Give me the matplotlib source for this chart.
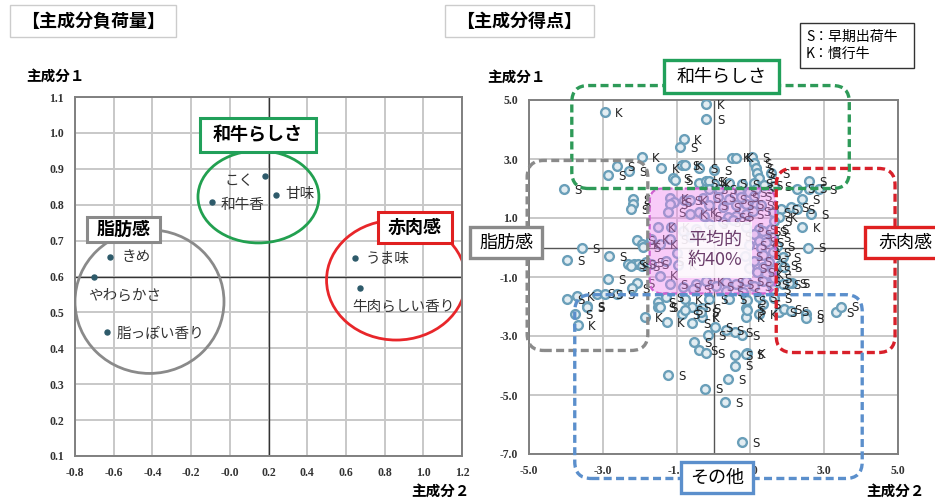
import numpy as np
import matplotlib
matplotlib.use("Agg")
import matplotlib.pyplot as plt
from matplotlib.patches import Ellipse, FancyBboxPatch, Rectangle

plt.rcParams['font.family'] = ['Noto Sans CJK JP', 'DejaVu Sans']
plt.rcParams['axes.unicode_minus'] = False

# ---- principal component loadings (left panel) ----
load_names = ["こく", "甘味", "和牛香", "きめ", "やわらかさ", "脂っぽい香り", "うま味", "牛肉らしい香り"]
load_pc2 = [0.18, 0.24, -0.09, -0.62, -0.70, -0.635, 0.647, 0.673]
load_pc1 = [0.88, 0.827, 0.808, 0.654, 0.599, 0.445, 0.651, 0.568]

# ---- principal component scores (right panel) ----
score_pc2 = [
    -2.95, -0.19, -0.19, -0.81, -0.92, -1.95, -1.41, -0.86, -0.78, -0.38,
    -1.11, -2.62, -2.30, -2.86, -4.05, -2.19, -2.19, -2.24, 0.00, 0.51,
    0.60, 1.03, 1.10, 1.15, 1.18, 1.22, 1.57, -1.05, -0.38, -0.19,
    0.00, 0.43, 0.76, 1.11, 1.38, 1.65, -0.11, 0.16, -0.11, 0.70,
    1.15, 0.97,
    2.27, 2.59, 2.59, 2.85, 1.84, 2.10, 2.40, 2.27, 2.65, 1.78,
    2.40, 2.57, 1.73, 1.80, 2.13, 2.05, 1.78, 1.92, 2.10, 2.51,
    2.51, 3.32, 3.46, 1.87, 1.91, 1.87,
    -3.57, -3.97, -2.84, -2.32, -2.16, -2.05, -2.08, -1.93, -1.91, -2.86,
    -2.08, -2.20, -3.97, -3.70, -3.43, -3.16, -2.95, -2.62, -3.76, -3.68,
    -3.43, -2.23, -1.93,
    -1.51, -1.46, -1.51, -1.86, -1.27, -1.51, -0.86, -0.57, -0.57, -0.32,
    -0.30, 0.03, -0.16, 0.35, 0.76, 0.89, 0.89, -0.54, -0.38, -0.19,
    0.59, 0.92, 0.88, 0.59, -1.24, 0.38, -0.22, 0.30, 0.76, 0.57,
    -1.17, -1.06, -0.79, -0.65, -0.29, 0.11, 0.43, 0.74, 1.10, -1.19,
    -0.11, 0.25, 0.61, 0.88, 1.15, 1.29, -1.23, -0.65, -0.38, -0.25,
    0.38, 0.61, 0.88, 1.06, -1.14, -0.83, -0.47, -0.11, 0.25, 0.52,
    0.88, 1.24, 1.51, -1.69, -1.46, -1.19, 1.10, 1.33, 1.55, 1.24,
    1.42, 1.28, -1.83, -1.70, 1.10, 1.33, 1.33, 1.51, 1.19, 1.42,
    -1.19, -0.83, -0.47, -0.20, 0.07, 0.34, 0.61, 0.88, 1.10, 1.33,
    1.55, -0.56, 0.34, 0.79, -1.28, -0.78, -0.11, 0.43, 0.92, 1.33,
    1.24, -1.46, -0.78, -0.33, 0.92, 1.24, 1.62, 1.65, 1.60, 1.62,
    1.60, 1.65, 1.62, 1.64, -1.00, -0.95, -1.30, 0.95, 0.85, 0.95,
    -0.60, 0.55,
]
score_pc1 = [
    4.58, 4.88, 4.37, 3.69, 3.39, 3.08, 2.71, 2.78, 2.80, 2.68,
    2.34, 2.75, 2.58, 2.47, 1.97, 1.66, 1.49, 1.32, 2.64, 3.05,
    3.05, 3.08, 2.88, 2.71, 2.54, 2.37, 2.54, 2.30, 2.17, 2.27,
    2.15, 2.17, 2.15, 2.17, 2.13, 2.10, 2.25, 1.99, 1.99, 1.93,
    1.99, 1.87,
    2.00, 2.27, 2.00, 1.97, 1.32, 1.36, 1.66, 1.32, 1.15, 1.02,
    0.68, 0.00, 0.05, -0.60, -1.19, -1.22, -2.20, -2.07, -2.14, -2.24,
    -2.40, -2.20, -2.00, -0.33, -0.67, -1.23,
    -0.03, -0.44, -0.30, -0.55, -0.56, -0.55, 0.27, 0.12, 0.03, -1.08,
    -1.19, -1.36, -1.73, -1.63, -1.97, -1.56, -1.59, -1.59, -2.24, -2.64,
    -2.03, -0.62, -0.62,
    0.68, -0.95, -1.86, -2.37, -2.54, -2.03, -2.24, -2.03, -2.57, -2.37,
    -2.05, -2.71, -2.95, -2.81, -2.95, -2.37, -2.05, -3.19, -3.49, -3.59,
    -3.63, -3.59, -3.62, -4.00, -4.31, -4.47, -4.78, -5.25, -6.61, -2.85,
    1.69, 1.54, 1.60, 1.60, 1.69, 1.71, 1.65, 1.71, 1.76, 1.48,
    1.43, 1.37, 1.43, 1.48, 1.43, 1.43, 1.20, 1.14, 1.20, 1.08,
    1.02, 1.08, 1.14, 1.25, 0.69, 0.57, 0.63, 0.80, 0.86, 0.92,
    0.69, 0.63, 0.57, 0.30, 0.12, 0.30, 0.46, 0.57, 0.63, 0.23,
    0.17, 0.00, -0.50, -0.55, -0.45, -0.27, -0.67, -0.50, -0.84, -0.90,
    -1.23, -1.34, -1.23, -1.12, -1.29, -1.17, -1.23, -1.12, -1.29, -1.12,
    -1.23, -1.40, -1.46, -1.51, -1.68, -1.74, -1.74, -1.74, -1.79, -1.91,
    -1.68, -2.02, -2.13, -2.20, -2.13, -2.25, 1.20, 0.90, 0.35, -0.15,
    -0.75, -1.05, -1.40, -1.70, -0.20, -0.60, -0.45, 0.10, -0.30, -0.70,
    0.35, 0.40,
]
score_type = list(
    "KKSKSKKSKS" "SSSSSSSSSK" "KSSSSSSSSS" "KSSSSSKSSS" "SS"
    "SSSSSSSSSK" "KSSSSSSSSS" "SSSSSS"
    "SSSSSSSKSS" "SSSKSSSSSK" "SSS"
    "KKSKKSSSSK" "SSSSSKSSSS" "SKSSSSSSSS"
    "KSSKSSSSSS" "SSSSSSSKKS" "SSSSKSSSSS" "SSSKKSSSSS" "SSSSSSKSSK"
    "SSSKSSSSSS" "SSSSSKSSSS" "SSSSSKSSSS" "SSSSSKSSSS" "KSSSSSSS" "SS"
)

W, H = 935, 499
fig = plt.figure(figsize=(W / 100, H / 100), dpi=100)


def fig_box(x0, y0, x1, y1, text, edge, fs, lw=2.0, weight="bold", ha="center", color="black", ls=1.2):
    fig.add_artist(Rectangle((x0 / W, 1 - y1 / H), (x1 - x0) / W, (y1 - y0) / H,
                             transform=fig.transFigure, facecolor="white",
                             edgecolor=edge, lw=lw, zorder=10))
    tx = (x0 + x1) / 2 / W if ha == "center" else (x0 + 6) / W
    fig.text(tx, 1 - (y0 + y1) / 2 / H, text, ha=ha, va="center", fontsize=fs,
             fontweight=weight, color=color, zorder=11, linespacing=ls)


def style_axes(ax):
    ax.grid(True, color="#c8c8c8", lw=1.4)
    ax.set_axisbelow(True)
    for s in ax.spines.values():
        s.set_color("#808080")
        s.set_linewidth(1.4)
    ax.tick_params(length=0, pad=8, labelsize=8.5, labelcolor="#333333")
    for lab in ax.get_xticklabels() + ax.get_yticklabels():
        lab.set_fontfamily("Liberation Serif")
        lab.set_fontweight("bold")


# ---------------- left: loadings ----------------
ax1 = fig.add_axes([75 / W, 1 - 456 / H, 387 / W, 359 / H])
ax1.set_xlim(-0.8, 1.2)
ax1.set_ylim(0.1, 1.1)
ax1.set_xticks(np.round(np.arange(-0.8, 1.21, 0.2), 1))
ax1.set_yticks(np.round(np.arange(0.1, 1.11, 0.1), 1))
ax1.xaxis.set_major_formatter(matplotlib.ticker.FormatStrFormatter("%.1f"))
ax1.yaxis.set_major_formatter(matplotlib.ticker.FormatStrFormatter("%.1f"))
style_axes(ax1)
ax1.axvline(0.2, color="#333333", lw=1.0, zorder=1)
ax1.axhline(0.6, color="#333333", lw=1.0, zorder=1)

ax1.add_patch(Ellipse((0.148, 0.822), 0.625, 0.257, fc="none", ec="#22a050", lw=2.0, zorder=2))
ax1.add_patch(Ellipse((-0.415, 0.53), 0.77, 0.40, fc="none", ec="#8a8a8a", lw=2.0, zorder=2))
ax1.add_patch(Ellipse((0.86, 0.59), 0.72, 0.334, fc="none", ec="#e8262a", lw=2.0, zorder=2))

ax1.plot(load_pc2, load_pc1, "o", ms=3.6, color="#2d5a6a", zorder=4)
# label anchors: (x, y, ha)
label_pos = {
    "こく": (0.125, 0.866, "right"),
    "甘味": (0.285, 0.83, "left"),
    "和牛香": (-0.05, 0.80, "left"),
    "きめ": (-0.56, 0.654, "left"),
    "やわらかさ": (-0.73, 0.546, "left"),
    "脂っぽい香り": (-0.585, 0.44, "left"),
    "うま味": (0.70, 0.648, "left"),
    "牛肉らしい香り": (0.635, 0.515, "left"),
}
for name in load_names:
    tx, ty, ha = label_pos[name]
    ax1.text(tx, ty, name, ha=ha, va="center", fontsize=10.5, color="#333333", zorder=5)

# ---------------- right: scores ----------------
ax2 = fig.add_axes([529 / W, 1 - 454 / H, 369 / W, 354 / H])
ax2.set_xlim(-5, 5)
ax2.set_ylim(-7, 5)
ax2.set_xticks([-5, -3, -1, 1, 3, 5])
ax2.set_yticks([-7, -5, -3, -1, 1, 3, 5])
ax2.xaxis.set_major_formatter(matplotlib.ticker.FormatStrFormatter("%.1f"))
ax2.yaxis.set_major_formatter(matplotlib.ticker.FormatStrFormatter("%.1f"))
style_axes(ax2)
ax2.axvline(0, color="#555555", lw=1.0, zorder=1)
ax2.axhline(0, color="#555555", lw=1.0, zorder=1)

ax2.plot(score_pc2, score_pc1, "o", ms=6.3, mfc="#e3edf2", mec="#6a9fb9", mew=1.7, zorder=3)
for x, y, t in zip(score_pc2, score_pc1, score_type):
    ax2.text(x + 0.28, y - 0.05, t, fontsize=8.5, va="center", ha="left",
             family="DejaVu Sans", color="#222222", zorder=3)

# grouping frames (rounded, dashed)
aspect = 37 / 29.5
dash = (0, (2.4, 1.3))


def group_box(x0, x1, y0, y1, color, fill="none", z=6, alpha=1.0):
    p = FancyBboxPatch((x0, y0), x1 - x0, y1 - y0,
                       boxstyle="round,pad=0,rounding_size=0.45",
                       mutation_aspect=aspect, fc=fill, ec=color, lw=2.4,
                       linestyle=dash, clip_on=False, zorder=z)
    ax2.add_patch(p)


ax2.add_patch(FancyBboxPatch((-1.73, -1.56), 3.41, 3.56,
                             boxstyle="round,pad=0,rounding_size=0.35",
                             mutation_aspect=aspect, fc=(0.94, 0.52, 0.94, 0.42),
                             ec="#d060d0", lw=1.6, linestyle=(0, (2.5, 1.5)), zorder=4))
ax2.add_patch(Rectangle((-0.97, -1.02), 2.0, 1.87, fc="white", ec="none", alpha=0.85, zorder=5))
ax2.text(0.03, -0.08, "平均的\n約40%", ha="center", va="center", fontsize=13,
         color="#6b3d6b", linespacing=1.15, zorder=6)

group_box(-3.84, 3.68, 2.0, 5.49, "#2e9a58")
group_box(-5.05, -1.78, -3.49, 2.95, "#8a8a8a")
group_box(1.7, 4.92, -3.56, 2.68, "#d8202a")
group_box(-3.76, 4.03, -7.83, -1.6, "#5b8fcc")

# ---------------- text frames ----------------
fig_box(10, 5, 176, 37, "【主成分負荷量】", "#cccccc", 13, lw=1.0)
fig_box(445, 5, 594, 37, "【主成分得点】", "#cccccc", 13, lw=1.0)

fig_box(200, 118, 316, 152, "和牛らしさ", "#21a05a", 13, lw=2.2)
fig_box(87, 217, 160, 242, "脂肪感", "#8a8a8a", 13, lw=2.2)
fig_box(378, 212, 452, 243, "赤肉感", "#e02020", 13, lw=2.2)

fig_box(664, 60, 779, 93, "和牛らしさ", "#21a05a", 13, lw=2.4, weight="normal")
fig_box(470, 227, 542, 258, "脂肪感", "#8a8a8a", 13, lw=2.4, weight="normal")
fig_box(865, 227, 945, 258, "赤肉感", "#e02020", 13, lw=2.4, weight="normal")
fig_box(681, 462, 753, 493, "その他", "#5b8fcc", 13, lw=2.4, weight="normal")

fig_box(800, 23, 914, 68, "S：早期出荷牛\nK：慣行牛", "#333333", 10, lw=1.0,
        weight="normal", ha="left", ls=1.25)

fig.text(26 / W, 1 - 76 / H, "主成分１", ha="left", va="center", fontsize=10.5, fontweight="bold")
fig.text(487 / W, 1 - 77 / H, "主成分１", ha="left", va="center", fontsize=10.5, fontweight="bold")
fig.text(470 / W, 1 - 491 / H, "主成分２", ha="right", va="center", fontsize=10.5, fontweight="bold")
fig.text(925 / W, 1 - 491 / H, "主成分２", ha="right", va="center", fontsize=10.5, fontweight="bold")

fig.savefig("out.png", dpi=100)
